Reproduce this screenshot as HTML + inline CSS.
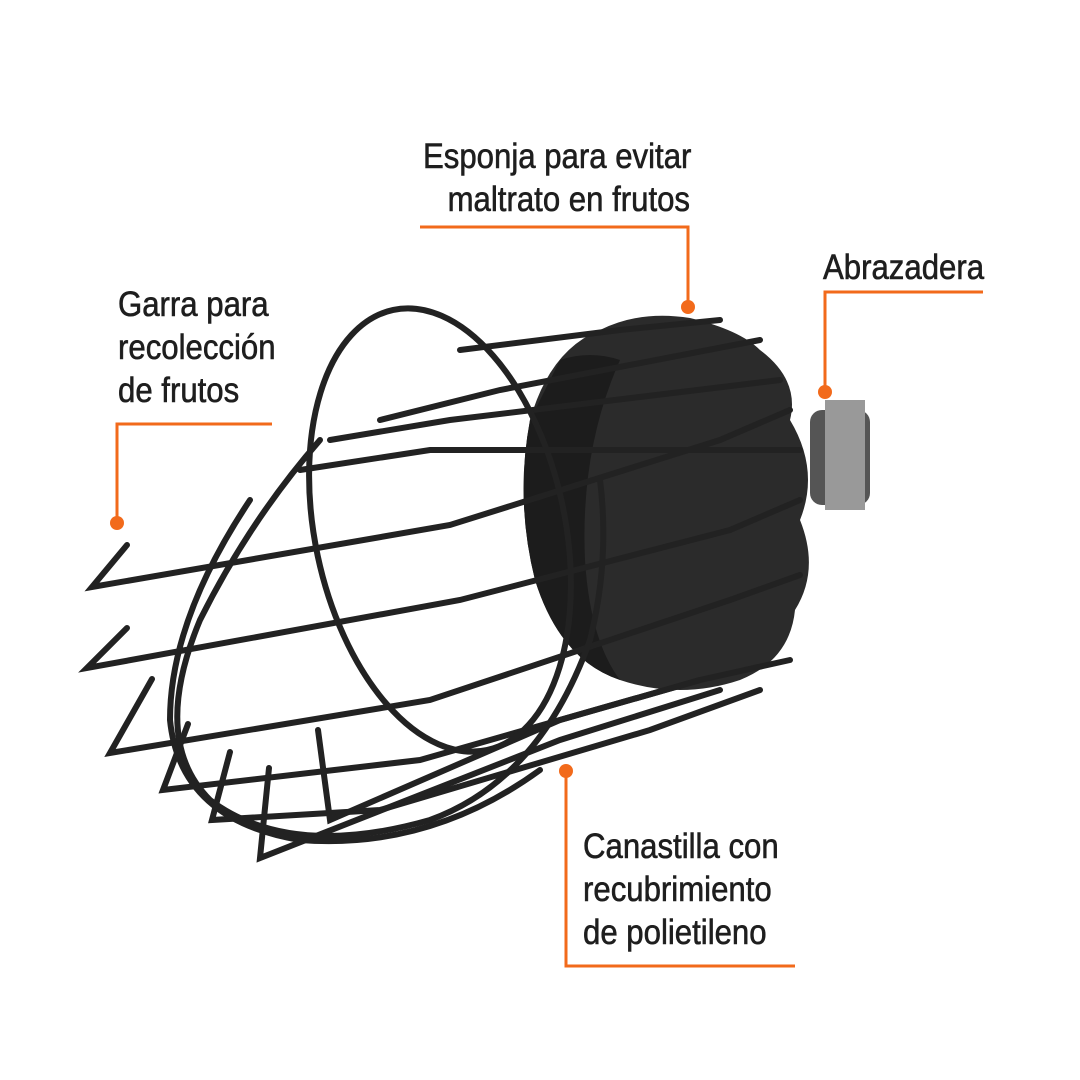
<!DOCTYPE html>
<html><head><meta charset="utf-8"><style>
body{margin:0;background:#fff;}
.t{position:absolute;font-family:"Liberation Sans",sans-serif;font-size:35px;color:#1e1e1e;line-height:43px;white-space:nowrap;transform:scaleX(0.89);-webkit-text-stroke:0.6px #1e1e1e;}
</style></head><body>
<div style="position:relative;width:1080px;height:1080px;overflow:hidden">
<svg width="1080" height="1080" style="position:absolute;left:0;top:0">
<g stroke="#f26a1b" stroke-width="3" fill="none">
<polyline points="420,227 688,227 688,305"/>
<polyline points="983,292 825,292 825,390"/>
<polyline points="272,424 117,424 117,520"/>
<polyline points="566,772 566,966 795,966"/>
</g>
<g fill="#f26a1b"><circle cx="688" cy="307" r="7"/><circle cx="825" cy="392" r="7"/><circle cx="117" cy="523" r="7"/><circle cx="566" cy="771" r="7"/></g>
<rect x="810" y="410" width="60" height="95" rx="12" fill="#555"/>
<rect x="825" y="400" width="40" height="110" fill="#999"/>
<path d="M600,330 Q640,310 690,318 Q740,330 760,350 Q800,380 790,420 Q820,470 800,520 Q820,570 795,610 Q790,660 740,680 Q680,700 620,680 Q560,660 535,580 Q515,500 530,420 Q550,350 600,330Z" fill="#2b2b2b"/>
<path d="M560,360 Q590,350 620,360 Q580,450 585,560 Q590,640 620,680 Q560,660 535,580 Q515,500 530,420Z" fill="#1c1c1c"/>
<g stroke="#222" stroke-width="6" fill="none" stroke-linecap="round">
<polyline points="127,545 92,587 450,525 720,440 790,410"/>
<polyline points="127,628 87,668 460,600 730,530 800,500"/>
<polyline points="152,679 110,753 430,700 730,600 800,575"/>
<polyline points="188,724 163,790 420,760 700,680 790,660"/>
<polyline points="230,752 212,820 380,810 650,730 760,690"/>
<polyline points="269,768 260,858 560,740 720,690"/>
<polyline points="318,730 330,820 560,720 700,680"/>
<polyline points="380,420 500,390 760,340"/>
<polyline points="330,440 450,420 780,380"/>
<polyline points="460,350 620,330 720,320"/>
<polyline points="300,470 430,450 800,450"/>
<ellipse cx="440" cy="530" rx="125" ry="225" transform="rotate(-12 440 530)"/>
<path d="M320,440 Q250,520 200,620 Q150,740 210,800 Q290,860 430,820 Q540,780 590,640 Q610,560 600,480"/>
<path d="M250,500 Q170,620 170,720 Q180,820 300,840 Q430,850 540,770"/>
</g>
</svg>
<div class="t" style="left:390px;top:135px;width:300px;text-align:right;transform-origin:right top">Esponja para evitar<br>maltrato en frutos</div>
<div class="t" style="left:823px;top:246px;transform-origin:left top">Abrazadera</div>
<div class="t" style="left:118px;top:283px;transform-origin:left top">Garra para<br>recolección<br>de frutos</div>
<div class="t" style="left:583px;top:825px;transform-origin:left top">Canastilla con<br>recubrimiento<br>de polietileno</div>
</div>
</body></html>
